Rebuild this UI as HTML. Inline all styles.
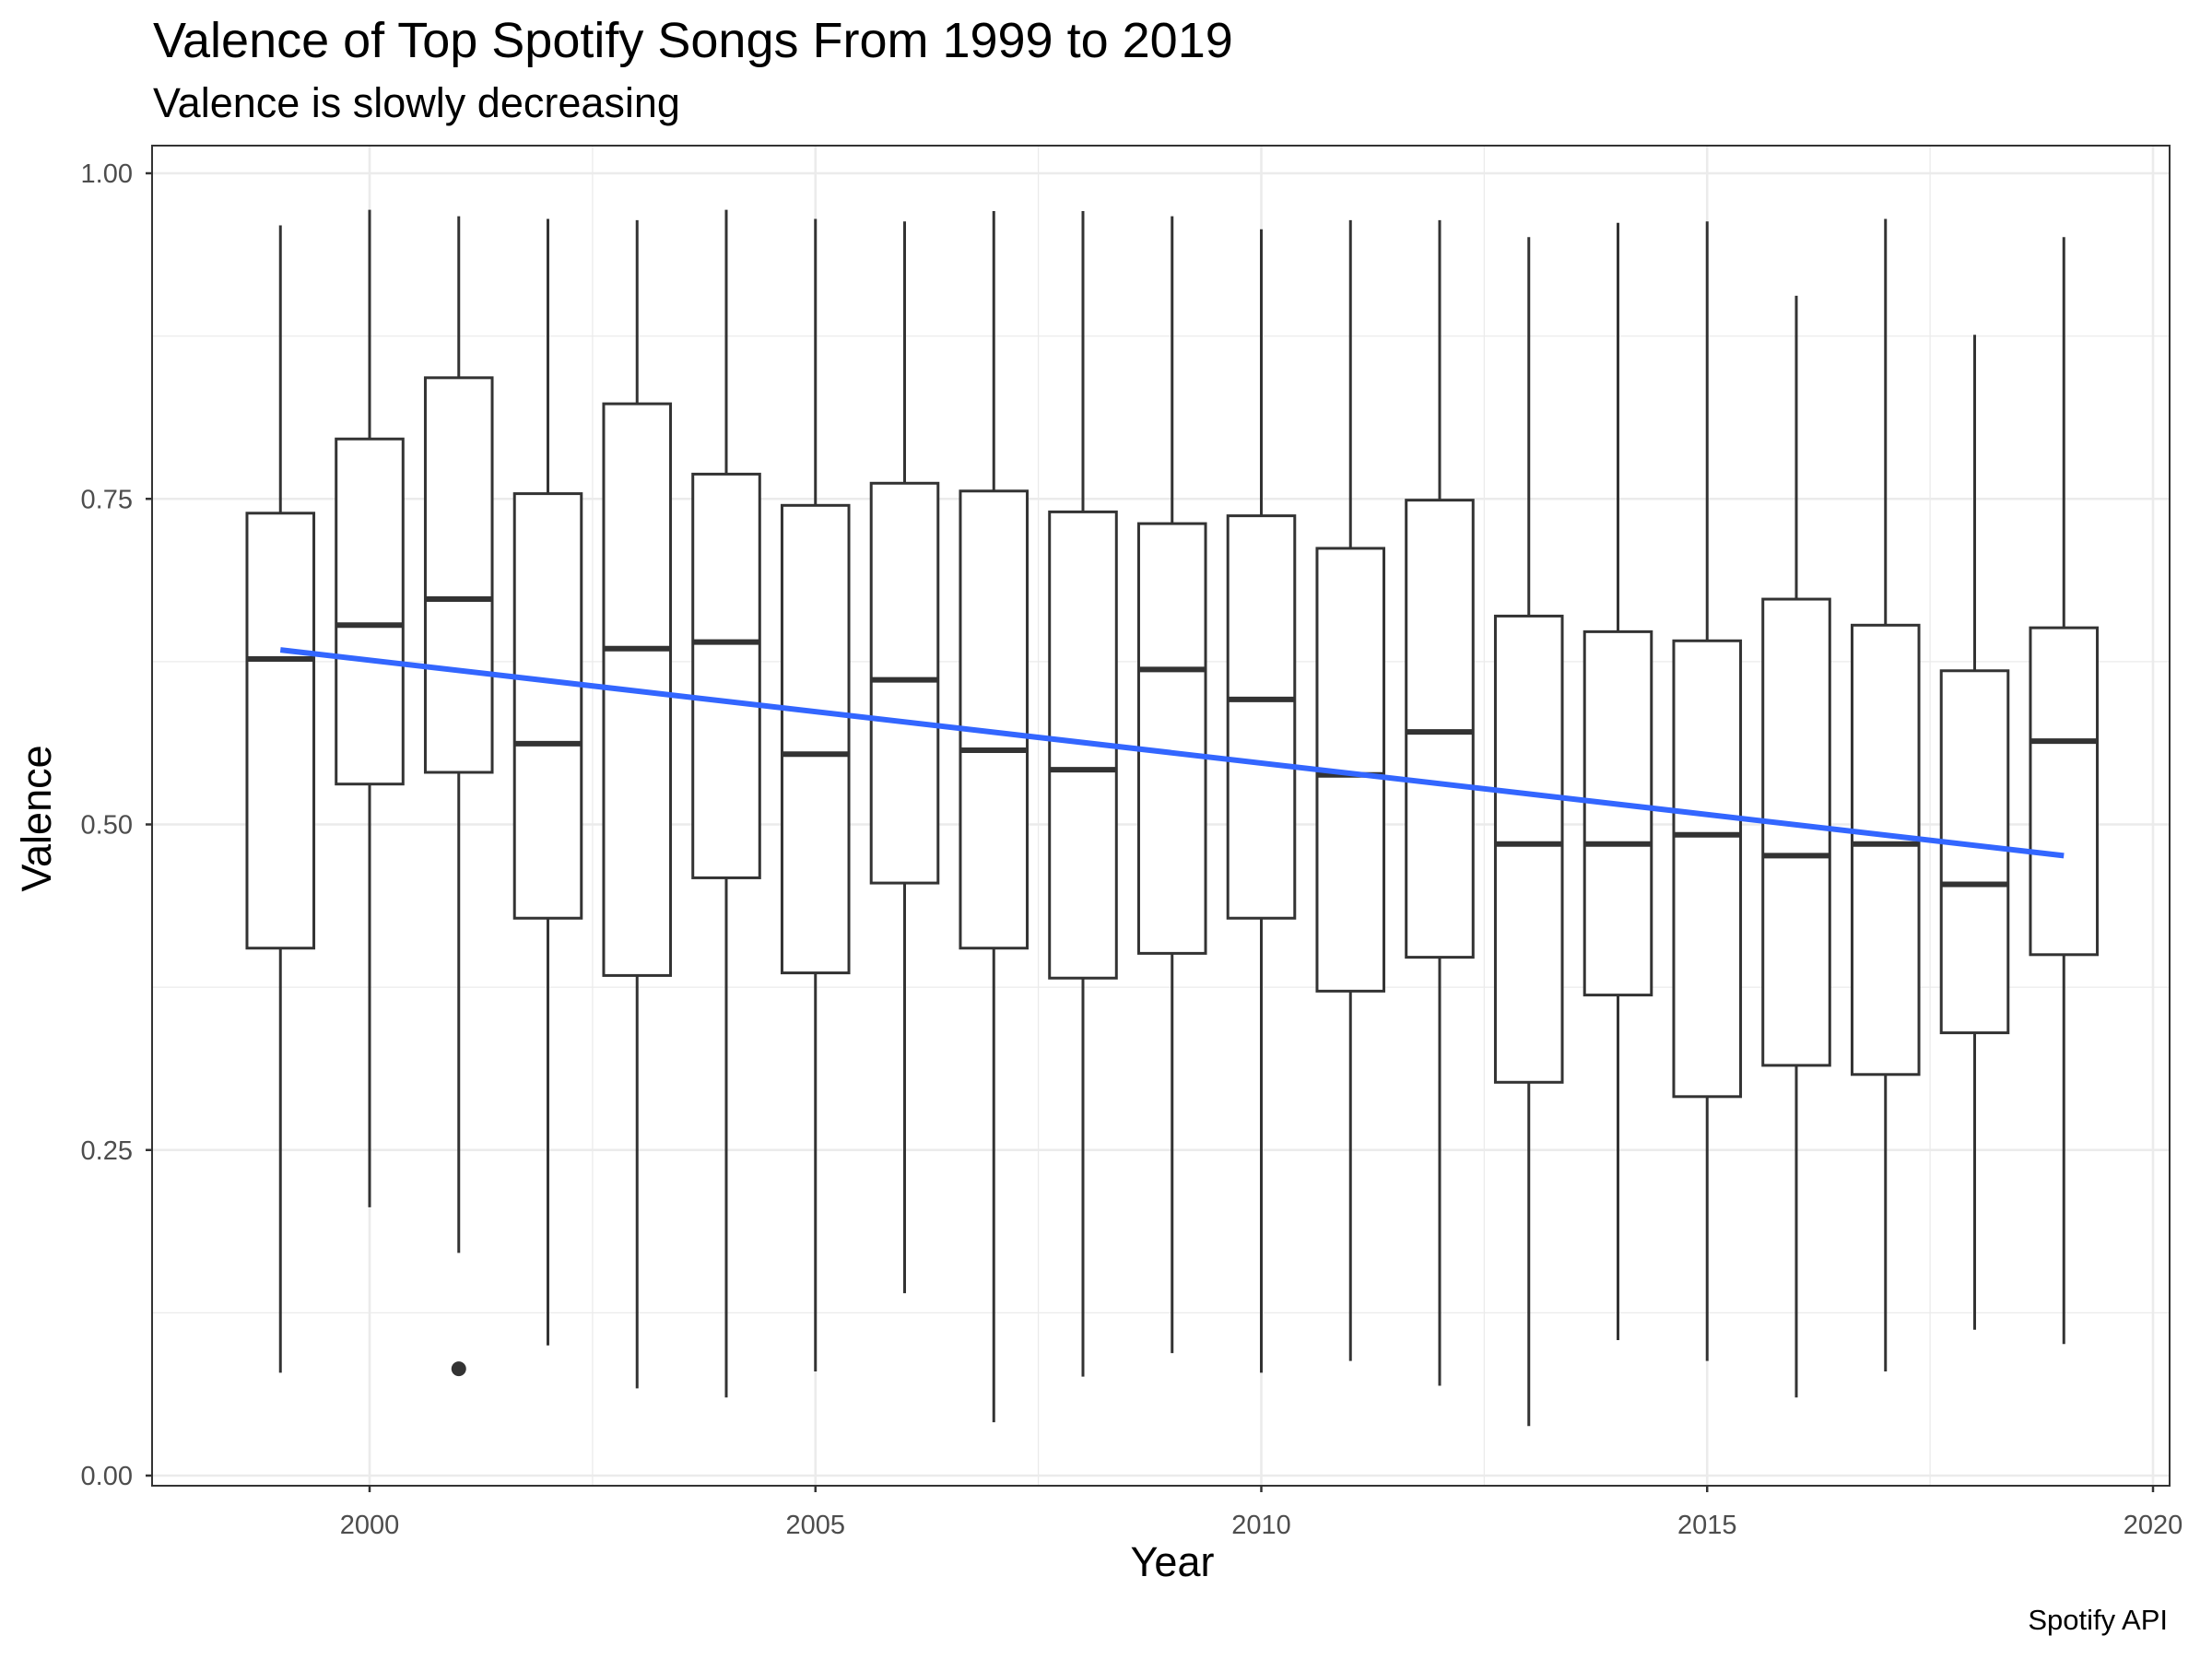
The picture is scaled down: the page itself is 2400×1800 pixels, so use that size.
<!DOCTYPE html>
<html><head><meta charset="utf-8"><style>
html,body{margin:0;padding:0;background:#fff;}
svg{display:block;font-family:"Liberation Sans",Arial,sans-serif;}
</style></head><body>
<svg id="chart" width="2400" height="1800" viewBox="0 0 2400 1800" xmlns="http://www.w3.org/2000/svg">
<rect x="0" y="0" width="2400" height="1800" fill="#fff"/>
<text x="166" y="62" font-size="54" fill="#000">Valence of Top Spotify Songs From 1999 to 2019</text>
<text x="166" y="127" font-size="45" fill="#000">Valence is slowly decreasing</text>
<g id="grid"></g>
<g id="marks"></g>
<g id="axes"></g>
<text x="1272" y="1710" font-size="45" text-anchor="middle" fill="#000">Year</text>
<text transform="translate(55,888) rotate(-90)" font-size="45" text-anchor="middle" fill="#000">Valence</text>
<text x="2352" y="1768" font-size="31" text-anchor="end" fill="#000">Spotify API</text>
</svg>
<script>
const years=[1999,2000,2001,2002,2003,2004,2005,2006,2007,2008,2009,2010,2011,2012,2013,2014,2015,2016,2017,2018,2019];
const whiskerHigh=[0.960,0.972,0.967,0.965,0.964,0.972,0.965,0.963,0.971,0.971,0.967,0.957,0.964,0.964,0.951,0.962,0.963,0.906,0.965,0.876,0.951];
const q3=[0.739,0.796,0.843,0.754,0.823,0.769,0.745,0.762,0.756,0.740,0.731,0.737,0.712,0.749,0.660,0.648,0.641,0.673,0.653,0.618,0.651];
const medians=[0.627,0.653,0.673,0.562,0.635,0.640,0.554,0.611,0.557,0.542,0.619,0.596,0.538,0.571,0.485,0.485,0.492,0.476,0.485,0.454,0.564];
const q1=[0.405,0.531,0.540,0.428,0.384,0.459,0.386,0.455,0.405,0.382,0.401,0.428,0.372,0.398,0.302,0.369,0.291,0.315,0.308,0.340,0.400];
const whiskerLow=[0.079,0.206,0.171,0.100,0.067,0.060,0.080,0.140,0.041,0.076,0.094,0.079,0.088,0.069,0.038,0.104,0.088,0.060,0.080,0.112,0.101];
const outlierYears=[2001];
const outlierValues=[0.082];
const trendYears=[1999,2019];
const trendValues=[0.634,0.476];
const xTicks=[2000,2005,2010,2015,2020];
const xMinor=[1997.5,2002.5,2007.5,2012.5,2017.5];
const yTicks=[0,0.25,0.5,0.75,1];
const yTickLabels=["0.00","0.25","0.50","0.75","1.00"];
const yMinor=[0.125,0.375,0.625,0.875];

const P={l:165,r:2354,t:158,b:1612};
const X=v=>401+(v-2000)*96.75;
const Y=v=>1601-v*1413;
const NS="http://www.w3.org/2000/svg";
function mk(parent,tag,attrs){const e=document.createElementNS(NS,tag);for(const k in attrs)e.setAttribute(k,attrs[k]);parent.appendChild(e);return e;}
const grid=document.getElementById('grid'),marks=document.getElementById('marks'),axes=document.getElementById('axes');

mk(grid,'rect',{x:P.l,y:P.t,width:P.r-P.l,height:P.b-P.t,fill:'#fff'});
yMinor.forEach(v=>{const e=mk(grid,'line',{x1:P.l,x2:P.r,y1:Y(v),y2:Y(v),stroke:'#EBEBEB','stroke-width':1.3});

});
xMinor.forEach(v=>{if(X(v)<P.l)return;const e=mk(grid,'line',{x1:X(v),x2:X(v),y1:P.t,y2:P.b,stroke:'#EBEBEB','stroke-width':1.3});

});
yTicks.forEach(v=>{const e=mk(grid,'line',{x1:P.l,x2:P.r,y1:Y(v),y2:Y(v),stroke:'#EBEBEB','stroke-width':2.6});

});
xTicks.forEach(v=>{const e=mk(grid,'line',{x1:X(v),x2:X(v),y1:P.t,y2:P.b,stroke:'#EBEBEB','stroke-width':2.6});

});

const hw=0.375*96.75;
years.forEach((yr,i)=>{
  const g=mk(marks,'g',{});
  
  
  const cx=X(yr);
  mk(g,'line',{x1:cx,x2:cx,y1:Y(whiskerHigh[i]),y2:Y(q3[i]),stroke:'#333','stroke-width':3});
  mk(g,'line',{x1:cx,x2:cx,y1:Y(q1[i]),y2:Y(whiskerLow[i]),stroke:'#333','stroke-width':3});
  mk(g,'rect',{x:cx-hw,y:Y(q3[i]),width:2*hw,height:Y(q1[i])-Y(q3[i]),fill:'#fff',stroke:'#333','stroke-width':3});
  mk(g,'line',{x1:cx-hw,x2:cx+hw,y1:Y(medians[i]),y2:Y(medians[i]),stroke:'#333','stroke-width':6});
});
outlierYears.forEach((yr,i)=>{const e=mk(marks,'circle',{cx:X(yr),cy:Y(outlierValues[i]),r:8,fill:'#333'});

});
const tl=mk(marks,'line',{x1:X(trendYears[0]),y1:Y(trendValues[0]),x2:X(trendYears[1]),y2:Y(trendValues[1]),stroke:'#3366FF','stroke-width':6});



mk(axes,'rect',{x:P.l,y:P.t,width:P.r-P.l,height:P.b-P.t,fill:'none',stroke:'#333','stroke-width':2});
yTicks.forEach((v,i)=>{
  mk(axes,'line',{x1:P.l-7,x2:P.l,y1:Y(v),y2:Y(v),stroke:'#333','stroke-width':2.5});
  const t=mk(axes,'text',{x:P.l-21,y:Y(v)+10,'font-size':29,'text-anchor':'end',fill:'#4D4D4D'});
  t.textContent=yTickLabels[i];
  
  
});
xTicks.forEach(v=>{
  mk(axes,'line',{x1:X(v),x2:X(v),y1:P.b,y2:P.b+7,stroke:'#333','stroke-width':2.5});
  const t=mk(axes,'text',{x:X(v),y:P.b+52,'font-size':29,'text-anchor':'middle',fill:'#4D4D4D'});
  t.textContent=String(v);
  
  
});
</script>
</body></html>
